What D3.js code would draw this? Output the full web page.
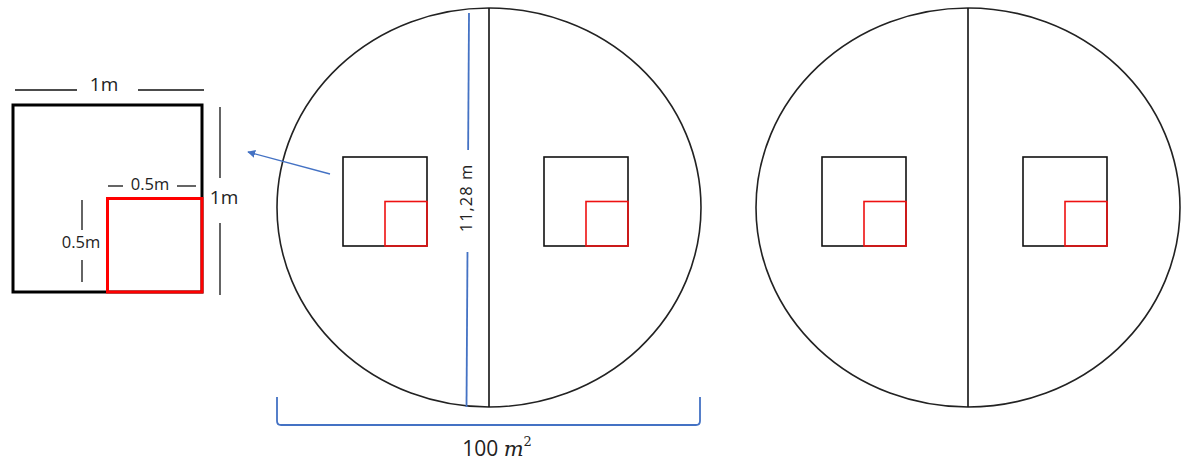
<!DOCTYPE html>
<html>
<head>
<meta charset="utf-8">
<script src="https://cdn.jsdelivr.net/npm/d3@7"></script>
<style>
  html, body { margin: 0; padding: 0; background: #fff; }
  svg { display: block; }
  text { font-family: "Open Sans", "DejaVu Sans", sans-serif; fill: #222; }
</style>
</head>
<body>
<div id="chart"></div>
<script>
// ---------- data (values of the diagram) ----------
const plots = ["plot 1", "plot 2"];            // two circular plots
const halves = ["left", "right"];              // each plot split in two halves
const quadratSizes = [1, 0.5];                 // quadrat side (m): outer 1 m, inner 0.5 m
const quadratLabels = ["1m", "0.5m"];
const plotDiameterLabel = ["11,28 m"];
const plotAreaValue = [100];                   // m²

// ---------- setup ----------
const W = 1181, H = 461;
const blue = "#4472C4";
const svg = d3.select("#chart").append("svg").attr("width", W).attr("height", H);

svg.append("defs").append("marker")
  .attr("id", "arrow").attr("viewBox", "0 0 10 10")
  .attr("refX", 9).attr("refY", 5).attr("markerWidth", 8).attr("markerHeight", 8)
  .attr("orient", "auto-start-reverse").attr("markerUnits", "userSpaceOnUse")
  .append("path").attr("d", "M0,0 L10,5 L0,10 z").attr("fill", blue);

// scales
const plotX = d3.scalePoint().domain(plots).range([489, 968]);
const halfOffset = d3.scalePoint().domain(halves).range([-146, 55]); // left edge of quadrat relative to plot centre
const qW = d3.scaleLinear().domain([0, 1]).range([0, 84]);
const qH = d3.scaleLinear().domain([0, 1]).range([0, 89]);
const plotCY = 207.5, plotRX = 212, plotRY = 199.5;
const qBottom = 246;

// ---------- plots ----------
plots.forEach(p => {
  const cx = plotX(p);
  svg.append("ellipse").attr("cx", cx).attr("cy", plotCY)
    .attr("rx", plotRX).attr("ry", plotRY)
    .attr("fill", "none").attr("stroke", "#222").attr("stroke-width", 1.6);
  svg.append("line").attr("x1", cx).attr("x2", cx)
    .attr("y1", plotCY - plotRY).attr("y2", plotCY + plotRY)
    .attr("stroke", "#111").attr("stroke-width", 1.6);

  halves.forEach(h => {
    const x0 = cx + halfOffset(h);
    quadratSizes.forEach((s, i) => {
      const w = qW(s), hh = qH(s);
      svg.append("rect")
        .attr("x", x0 + qW(1) - w).attr("y", qBottom - hh)
        .attr("width", w).attr("height", hh)
        .attr("fill", "none")
        .attr("stroke", i === 0 ? "#111" : "#ee1111")
        .attr("stroke-width", 1.6);
    });
  });
});

// ---------- enlarged quadrat (left) ----------
const bigW = d3.scaleLinear().domain([0, 1]).range([0, 189]);
const bigH = d3.scaleLinear().domain([0, 1]).range([0, 187]);
const bx = 13, by = 105;
quadratSizes.forEach((s, i) => {
  const w = bigW(s), hh = bigH(s);
  svg.append("rect")
    .attr("x", bx + bigW(1) - w).attr("y", by + bigH(1) - hh)
    .attr("width", w).attr("height", hh)
    .attr("fill", "none")
    .attr("stroke", i === 0 ? "#000" : "#ff0000")
    .attr("stroke-width", 3);
});

const dimLine = (x1, y1, x2, y2) => svg.append("line")
  .attr("x1", x1).attr("y1", y1).attr("x2", x2).attr("y2", y2)
  .attr("stroke", "#111").attr("stroke-width", 1.3);

// top "1m"
dimLine(15, 90, 77, 90); dimLine(138, 90, 204, 90);
svg.append("text").attr("x", 104).attr("y", 86).attr("text-anchor", "middle")
  .attr("dominant-baseline", "middle").attr("font-size", 19).text(quadratLabels[0]);
// right "1m"
dimLine(220, 107, 220, 178); dimLine(220, 223, 220, 295);
svg.append("text").attr("x", 224).attr("y", 199).attr("text-anchor", "middle")
  .attr("dominant-baseline", "middle").attr("font-size", 19).text(quadratLabels[0]);
// inner top "0.5m"
dimLine(108, 186, 123, 186); dimLine(177, 186, 196, 186);
svg.append("text").attr("x", 150).attr("y", 186).attr("text-anchor", "middle")
  .attr("dominant-baseline", "middle").attr("font-size", 16.5).text(quadratLabels[1]);
// inner left "0.5m"
dimLine(82, 200, 82, 230); dimLine(82, 260, 82, 282);
svg.append("text").attr("x", 81).attr("y", 244).attr("text-anchor", "middle")
  .attr("dominant-baseline", "middle").attr("font-size", 16.5).text(quadratLabels[1]);

// ---------- blue annotations ----------
// arrow from plot quadrat to enlarged quadrat
svg.append("line").attr("x1", 330).attr("y1", 174).attr("x2", 248).attr("y2", 152)
  .attr("stroke", blue).attr("stroke-width", 1.4).attr("marker-end", "url(#arrow)");

// diameter line with label
const dX = d3.scaleLinear().domain([13, 407]).range([469, 466.5]);
svg.append("line").attr("x1", dX(13)).attr("y1", 13).attr("x2", dX(150)).attr("y2", 150)
  .attr("stroke", blue).attr("stroke-width", 1.8);
svg.append("line").attr("x1", dX(252)).attr("y1", 252).attr("x2", dX(407)).attr("y2", 407)
  .attr("stroke", blue).attr("stroke-width", 1.8);
svg.append("text")
  .attr("transform", "translate(468,198) rotate(-90)")
  .attr("text-anchor", "middle").attr("dominant-baseline", "middle")
  .attr("font-size", 16.5).attr("letter-spacing", 1).text(plotDiameterLabel[0]);

// bracket under first plot
svg.append("path")
  .attr("d", "M277,397 L277,421 Q277,425 281,425 L696,425 Q700,425 700,421 L700,397")
  .attr("fill", "none").attr("stroke", blue).attr("stroke-width", 1.8);

const areaText = svg.append("text").attr("x", 497).attr("y", 456)
  .attr("text-anchor", "middle").attr("font-size", 21);
areaText.append("tspan").text(plotAreaValue[0] + " ");
areaText.append("tspan").attr("font-family", "'DejaVu Serif', 'Liberation Serif', serif")
  .attr("font-style", "italic").text("m");
areaText.append("tspan").attr("font-size", 13).attr("dy", -10)
  .attr("font-family", "'DejaVu Serif', 'Liberation Serif', serif").text("2");
</script>
</body>
</html>
